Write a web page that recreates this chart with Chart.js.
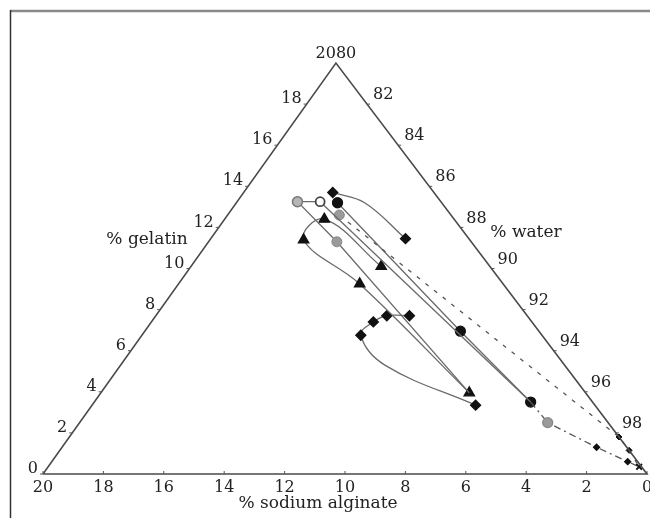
<!DOCTYPE html>
<html>
<head>
<meta charset="utf-8">
<script src="https://cdn.jsdelivr.net/npm/chart.js@4"></script>
<style>
  body { margin: 0; background: #fff; }
  canvas { display: block; }
</style>
</head>
<body>
<canvas id="chartContainer" width="650" height="518"></canvas>
<script>
// tick labels on the three edges
var gelatinTicks = [0, 2, 4, 6, 8, 10, 12, 14, 16, 18, 20];
var waterTicks = [80, 82, 84, 86, 88, 90, 92, 94, 96, 98];
var alginateTicks = [20, 18, 16, 14, 12, 10, 8, 6, 4, 2, 0];

// series, % gelatin / % sodium alginate (water = rest)
var triGelatin = [10.1, 12.4, 11.4, 9.25, 3.95];
var triAlginate = [3.6, 4.3, 5.5, 4.75, 3.85];

var diamondTopGelatin = [13.7, 13.2, 11.45];
var diamondTopAlginate = [3.35, 2.55, 2.1];

var diamondGelatin = [7.7, 7.7, 7.4, 6.75, 5.3, 3.35];
var diamondAlginate = [3.9, 4.65, 5.25, 6.0, 5.95, 3.95];

var blackGelatin = [13.2, 6.95, 3.5];
var blackAlginate = [3.45, 2.6, 2.05];

var greyDashGelatin = [12.6, 1.8, 1.15, 0.35];
var greyDashAlginate = [3.7, 0.0, 0.0, 0.08];

var dashDotGelatin = [3.5, 2.5, 1.3, 0.6, 0.35];
var dashDotAlginate = [2.05, 2.0, 1.0, 0.33, 0.08];

var openGelatin = [13.25, 13.25, 11.3, 3.95];
var openAlginate = [4.0, 4.75, 4.45, 3.85];

var longGelatin = [13.25, 3.5];
var longAlginate = [4.0, 2.05];

var SKEW = 0.515; // apex sits a bit left of the middle

function tern(g, a) {
    return { x: 20 - a - SKEW * g, y: g };
}
function pts(gs, as) {
    return gs.map(function (g, i) { return tern(g, as[i]); });
}

var lineGrey = '#6a6a6a';

var datasets = [
    {
        data: [tern(0, 20), tern(20, 0), tern(0, 0), tern(0, 20)],
        showLine: true, borderColor: '#4a4a4a', borderWidth: 1.6,
        pointRadius: 0, tension: 0
    },
    {
        data: pts(openGelatin, openAlginate),
        showLine: true, borderColor: lineGrey, borderWidth: 1.3,
        pointStyle: 'circle',
        pointRadius: [4.5, 5, 5, 0],
        backgroundColor: ['#fff', '#b5b5b5', '#9a9a9a', '#999'],
        pointBorderColor: ['#444', '#777', '#888', '#888'],
        pointBorderWidth: [1.8, 1.5, 1, 1],
        tension: 0
    },
    {
        data: pts(longGelatin, longAlginate),
        showLine: true, borderColor: lineGrey, borderWidth: 1.3,
        pointRadius: 0, tension: 0
    },
    {
        data: pts(greyDashGelatin, greyDashAlginate),
        showLine: true, borderColor: '#555', borderWidth: 1.3,
        borderDash: [4, 7],
        pointStyle: ['circle', 'rectRot', 'rectRot', 'crossRot'],
        pointRadius: [5, 3, 3, 4],
        backgroundColor: ['#9a9a9a', '#111', '#111', '#111'],
        pointBorderColor: ['#888', '#111', '#111', '#111'],
        pointBorderWidth: [1, 1, 1, 2],
        tension: 0
    },
    {
        data: pts(dashDotGelatin, dashDotAlginate),
        showLine: true, borderColor: '#555', borderWidth: 1.3,
        borderDash: [7, 4, 2, 4],
        pointStyle: ['circle', 'circle', 'rectRot', 'rectRot', 'rectRot'],
        pointRadius: [0, 5, 3, 3, 0],
        backgroundColor: ['#111', '#9a9a9a', '#111', '#111', '#111'],
        pointBorderColor: ['#111', '#888', '#111', '#111', '#111'],
        tension: 0
    },
    {
        data: pts(blackGelatin, blackAlginate),
        showLine: true, borderColor: lineGrey, borderWidth: 1.3,
        pointStyle: 'circle', pointRadius: 5,
        backgroundColor: '#111', pointBorderColor: '#111',
        tension: 0
    },
    {
        data: pts(triGelatin, triAlginate),
        showLine: true, borderColor: lineGrey, borderWidth: 1.3,
        pointStyle: 'triangle', pointRadius: 6,
        backgroundColor: '#111', pointBorderColor: '#111',
        tension: 0.4
    },
    {
        data: pts(diamondTopGelatin, diamondTopAlginate),
        showLine: true, borderColor: lineGrey, borderWidth: 1.3,
        pointStyle: 'rectRot', pointRadius: [5, 0, 5],
        backgroundColor: '#111', pointBorderColor: '#111',
        tension: 0.4
    },
    {
        data: pts(diamondGelatin, diamondAlginate),
        showLine: true, borderColor: lineGrey, borderWidth: 1.3,
        pointStyle: 'rectRot', pointRadius: [5, 5, 5, 5, 0, 5],
        backgroundColor: '#111', pointBorderColor: '#111',
        tension: 0.4
    }
];
datasets.forEach(function (d) { d.clip = false; });

var TICK_FONT = '16px "DejaVu Serif", serif';
var TITLE_FONT = '17px "DejaVu Serif", serif';

var ternaryAxes = {
    id: 'ternaryAxes',
    beforeDraw: function (chart) {
        var c = chart.ctx;
        c.save();
        // scanned page frame
        c.strokeStyle = '#8a8a8a';
        c.lineWidth = 2.5;
        c.beginPath(); c.moveTo(10, 11); c.lineTo(650, 11); c.stroke();
        c.strokeStyle = '#333';
        c.lineWidth = 1.5;
        c.beginPath(); c.moveTo(10.5, 10); c.lineTo(10.5, 518); c.stroke();
        c.restore();
    },
    afterDatasetsDraw: function (chart) {
        var c = chart.ctx, xs = chart.scales.x, ys = chart.scales.y;
        function px(p) { return [xs.getPixelForValue(p.x), ys.getPixelForValue(p.y)]; }
        c.save();
        c.font = TICK_FONT;
        c.fillStyle = '#222';
        c.strokeStyle = '#555';
        c.lineWidth = 1;
        c.textBaseline = 'middle';

        gelatinTicks.forEach(function (g) {
            var p = px(tern(g, 20 - g));
            if (g === 20) {
                c.textAlign = 'right';
                c.fillText(String(g), p[0], p[1] - 9);
                return;
            }
            c.textAlign = 'right';
            c.fillText(String(g), p[0] - 5, p[1] - 5);
            c.beginPath(); c.moveTo(p[0] - 3, p[1]); c.lineTo(p[0], p[1]); c.stroke();
        });
        waterTicks.forEach(function (w) {
            var g = 100 - w;
            var p = px(tern(g, 0));
            c.textAlign = 'left';
            if (w === 80) {
                c.fillText(String(w), p[0], p[1] - 9);
                return;
            }
            c.fillText(String(w), p[0] + 6, p[1] - 9);
            c.beginPath(); c.moveTo(p[0], p[1]); c.lineTo(p[0] + 3, p[1]); c.stroke();
        });
        alginateTicks.forEach(function (a) {
            var p = px(tern(0, a));
            c.textAlign = 'center';
            c.fillText(String(a), p[0], p[1] + 14);
            c.beginPath(); c.moveTo(p[0], p[1] - 3); c.lineTo(p[0], p[1]); c.stroke();
        });

        // edge titles
        c.font = TITLE_FONT;
        c.textAlign = 'center';
        c.fillText('% gelatin', 147, 240);
        c.fillText('% water', 526, 233);
        c.fillText('% sodium alginate', 318, 504);
        c.restore();
    }
};

var ctx = document.getElementById('chartContainer').getContext('2d');
var myChart = new Chart(ctx, {
    type: 'scatter',
    data: { datasets: datasets },
    options: {
        responsive: false,
        animation: false,
        layout: { autoPadding: false, padding: { left: 43, right: 3, top: 63, bottom: 44 } },
        scales: {
            x: { type: 'linear', min: 0, max: 20, display: false },
            y: { type: 'linear', min: 0, max: 20, display: false }
        },
        plugins: {
            legend: { display: false },
            tooltip: { enabled: false }
        }
    },
    plugins: [ternaryAxes]
});
</script>
</body>
</html>
